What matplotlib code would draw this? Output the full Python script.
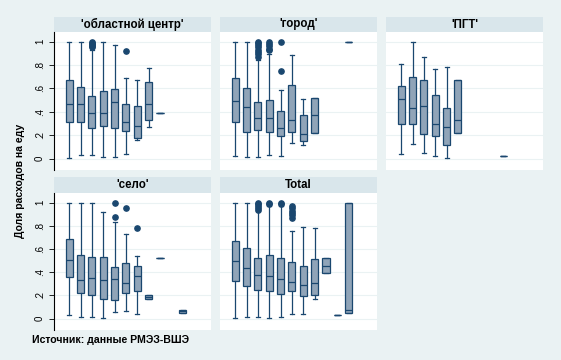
import matplotlib
matplotlib.use('Agg')
import matplotlib.pyplot as plt

plt.rcParams['font.family'] = ['Liberation Sans', 'DejaVu Sans']

# Панели и их заголовки
titles = ["'областной центр'", "'город'", "'ПГТ'", "'село'", "Total"]
categories = list(range(11))

# Статистики ящиков по категориям (None = нет наблюдений)
# 'областной центр'
lo_1 = [0.009, 0.029, 0.029, 0.011, 0.011, 0.043, 0.157, 0.274, 0.386, None, None]
q1_1 = [0.309, 0.317, 0.266, 0.283, 0.266, 0.240, 0.180, 0.326, 0.386, None, None]
md_1 = [0.471, 0.463, 0.394, 0.394, 0.480, 0.309, 0.283, 0.471, 0.386, None, None]
q3_1 = [0.669, 0.609, 0.531, 0.574, 0.597, 0.463, 0.454, 0.651, 0.386, None, None]
hi_1 = [1.000, 1.000, 0.930, 1.000, 0.969, 0.691, 0.674, 0.777, 0.386, None, None]
out_1 = [[], [], [0.95, 0.96, 0.97, 0.98, 0.99, 1.0], [], [], [0.923], [], [], [], [], []]

# 'город'
lo_2 = [0.020, 0.011, 0.011, 0.034, 0.026, 0.137, 0.120, 0.223, None, None, 1.0]
q1_2 = [0.317, 0.231, 0.249, 0.231, 0.197, 0.231, 0.154, 0.223, None, None, 1.0]
md_2 = [0.491, 0.437, 0.351, 0.351, 0.266, 0.334, 0.214, 0.369, None, None, 1.0]
q3_2 = [0.686, 0.600, 0.480, 0.497, 0.411, 0.626, 0.377, 0.514, None, None, 1.0]
hi_2 = [1.000, 1.000, 0.840, 0.891, 0.583, 0.883, 0.511, 0.514, None, None, 1.0]
out_2 = [[], [], [0.87, 0.89, 0.91, 0.93, 0.95, 0.97, 0.99, 1.0],
         [0.925, 0.94, 0.96, 0.98, 1.0], [0.751, 1.0], [], [], [], [], [], []]

# 'ПГТ'
lo_3 = [0.043, 0.129, 0.051, 0.026, 0.009, 0.223, None, None, None, 0.026, None]
q1_3 = [0.300, 0.300, 0.214, 0.197, 0.120, 0.223, None, None, None, 0.026, None]
md_3 = [0.506, 0.429, 0.454, 0.300, 0.274, 0.334, None, None, None, 0.026, None]
q3_3 = [0.623, 0.694, 0.669, 0.540, 0.429, 0.669, None, None, None, 0.026, None]
hi_3 = [0.806, 1.000, 0.871, 0.763, 0.786, 0.669, None, None, None, 0.026, None]
out_3 = [[] for _ in categories]

# 'село'
lo_4 = [0.031, 0.014, 0.014, 0.006, 0.057, 0.066, 0.040, 0.169, 0.520, None, 0.049]
q1_4 = [0.357, 0.220, 0.203, 0.169, 0.160, 0.220, 0.237, 0.169, 0.520, None, 0.049]
md_4 = [0.503, 0.331, 0.349, 0.331, 0.340, 0.306, 0.366, 0.186, 0.520, None, 0.066]
q3_4 = [0.683, 0.546, 0.529, 0.529, 0.443, 0.477, 0.451, 0.203, 0.520, None, 0.074]
hi_4 = [1.000, 1.000, 1.000, 0.920, 0.834, 0.726, 0.537, 0.203, 0.520, None, 0.074]
out_4 = [[], [], [], [], [0.877, 1.0], [0.949], [0.783], [], [], [], []]

# Total
lo_5 = [0.006, 0.014, 0.014, 0.006, 0.014, 0.040, 0.040, 0.169, 0.391, 0.031, 0.049]
q1_5 = [0.323, 0.280, 0.246, 0.237, 0.211, 0.237, 0.194, 0.203, 0.391, 0.031, 0.049]
md_5 = [0.494, 0.434, 0.374, 0.366, 0.340, 0.314, 0.289, 0.306, 0.451, 0.031, 0.074]
q3_5 = [0.666, 0.606, 0.520, 0.546, 0.520, 0.486, 0.451, 0.511, 0.520, 0.031, 1.000]
hi_5 = [1.000, 1.000, 0.931, 0.974, 0.974, 0.751, 0.786, 0.777, 0.520, 0.031, 1.000]
out_5 = [[], [], [0.94, 0.955, 0.97, 0.985, 1.0], [0.985, 1.0], [0.985, 1.0],
         [0.871, 0.89, 0.91, 0.93, 0.95, 0.966], [], [], [], [], []]

yticks = [0, 0.2, 0.4, 0.6, 0.8, 1]
ytick_labels = ['0', '.2', '.4', '.6', '.8', '1']

panels = [
    (lo_1, q1_1, md_1, q3_1, hi_1, out_1),
    (lo_2, q1_2, md_2, q3_2, hi_2, out_2),
    (lo_3, q1_3, md_3, q3_3, hi_3, out_3),
    (lo_4, q1_4, md_4, q3_4, hi_4, out_4),
    (lo_5, q1_5, md_5, q3_5, hi_5, out_5),
]

navy = '#1A476F'
fill = '#90A4B8'
bg = '#EAF2F3'
strip = '#D9E6EB'

W, H = 561, 360
fig = plt.figure(figsize=(W / 100, H / 100), dpi=100, facecolor=bg)

col_left = [54, 220, 386]
col_w = 157
rows = [(17, 32, 170), (177, 193, 330)]  # верх полосы, верх графика, низ графика

for i, (lo, q1, md, q3, hi, out) in enumerate(panels):
    r, c = divmod(i, 3)
    s_top, p_top, p_bot = rows[r]
    x0 = col_left[c]

    # полоса с заголовком
    sax = fig.add_axes([x0 / W, 1 - p_top / H, col_w / W, (p_top - s_top) / H])
    sax.set_facecolor(strip)
    sax.set_xticks([])
    sax.set_yticks([])
    for sp in sax.spines.values():
        sp.set_visible(False)
    sax.text(0.5, 0.5, titles[i], ha='center', va='center',
             fontsize=8.3, fontweight='bold', transform=sax.transAxes)

    ax = fig.add_axes([x0 / W, 1 - p_bot / H, col_w / W, (p_bot - p_top) / H])
    ax.set_facecolor('white')

    stats = []
    pos = []
    for k in categories:
        if md[k] is None:
            continue
        stats.append(dict(med=md[k], q1=q1[k], q3=q3[k],
                          whislo=lo[k], whishi=hi[k], fliers=out[k]))
        pos.append(k)

    ax.bxp(stats, positions=pos, widths=0.62, capwidths=0.33,
           patch_artist=True, showfliers=True,
           boxprops=dict(facecolor=fill, edgecolor=navy, linewidth=0.9),
           medianprops=dict(color=navy, linewidth=0.9),
           whiskerprops=dict(color=navy, linewidth=0.9),
           capprops=dict(color=navy, linewidth=0.9),
           flierprops=dict(marker='o', markerfacecolor=navy,
                           markeredgecolor=navy, markersize=3.8))

    ax.set_xlim(-1.35, 12.5)
    ax.set_ylim(-0.097, 1.082)
    ax.set_xticks([])
    ax.set_yticks(yticks)
    ax.yaxis.grid(True, color=bg, linewidth=0.8)
    ax.set_axisbelow(True)
    for sp in ax.spines.values():
        sp.set_visible(False)

    if c == 0:
        ax.spines['left'].set_visible(True)
        ax.spines['left'].set_color('black')
        ax.spines['left'].set_linewidth(0.8)
        ax.set_yticklabels(ytick_labels, rotation=90, va='center', fontsize=7)
        ax.tick_params(axis='y', length=3.5, width=0.6, pad=3)
    else:
        ax.tick_params(axis='y', length=0, labelleft=False)

fig.text(20 / W, 1 - 181 / H, 'Доля расходов на еду', rotation=90,
         ha='center', va='center', fontsize=7.5, fontweight='bold')
fig.text(32 / W, 1 - 340 / H, 'Источник: данные РМЭЗ-ВШЭ',
         ha='left', va='center', fontsize=7.6, fontweight='bold')

fig.savefig('out.png', dpi=100, facecolor=bg)
